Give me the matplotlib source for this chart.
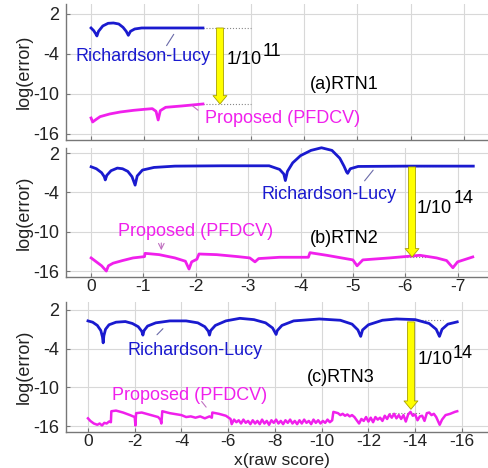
import matplotlib
matplotlib.use('Agg')
import matplotlib.pyplot as plt

plt.rcParams['font.family'] = ['Liberation Sans', 'DejaVu Sans']
plt.rcParams['axes.unicode_minus'] = False

# ---- data ----
# panel (a) RTN1
rl1_x = [0.0, -0.05, -0.09, -0.11, -0.14, -0.22, -0.32, -0.42, -0.52, -0.6, -0.66, -0.7,
         -0.74, -0.82, -0.95, -1.5, -2.1]
rl1_y = [-0.1, -0.5, -1.0, -1.3, -0.6, 0.2, 0.6, 0.65, 0.5, 0.0, -0.6, -1.2,
         -0.6, -0.25, -0.1, -0.1, -0.1]
pf1_x = [0.0, -0.03, -0.08, -0.17, -0.35, -0.55, -0.8, -1.0, -1.15, -1.22, -1.26, -1.3,
         -1.4, -1.7, -2.1]
pf1_y = [-13.6, -14.2, -13.9, -13.4, -13.0, -12.7, -12.45, -12.3, -12.2, -12.6, -13.9, -12.5,
         -12.0, -11.8, -11.5]

# panel (b) RTN2
rl2_x = [0.0, -0.1, -0.2, -0.25, -0.27, -0.3, -0.38, -0.5, -0.6, -0.7, -0.78, -0.84,
         -0.88, -0.98, -1.2, -1.6, -2.5, -3.4, -3.6, -3.68, -3.71, -3.75, -3.85, -4.0,
         -4.2, -4.4, -4.6, -4.75, -4.83, -4.88, -4.9, -4.95, -5.1, -6.0, -7.3]
rl2_y = [-0.1, -0.4, -1.0, -1.6, -2.1, -1.4, -0.7, -0.3, -0.4, -0.8, -1.6, -2.9,
         -1.5, -0.6, -0.2, 0.0, 0.05, 0.05, -0.5, -1.2, -2.2, -0.8, 0.5, 1.6,
         2.4, 2.8, 2.4, 1.2, 0.0, -0.9, -1.1, -0.4, -0.05, 0.0, 0.0]
pf2_x = [0.0, -0.1, -0.2, -0.29, -0.33, -0.42, -0.6, -0.8, -1.02, -1.03, -1.3, -1.6,
         -1.8, -1.87, -1.92, -2.02, -2.06, -2.4, -2.8, -3.03, -3.13, -3.2, -3.6, -4.15,
         -4.18, -4.5, -5.0, -5.08, -5.19, -5.7, -6.28, -6.6, -6.79, -6.91, -7.0, -7.29]
pf2_y = [-14.0, -14.6, -15.2, -16.0, -15.2, -14.8, -14.4, -14.0, -13.8, -13.3, -13.5, -14.0,
         -14.5, -15.7, -14.6, -14.2, -13.4, -13.5, -13.8, -14.0, -14.6, -14.1, -13.9, -13.9,
         -13.2, -13.6, -14.3, -15.2, -14.3, -14.0, -13.6, -14.0, -14.4, -15.5, -14.6, -13.85]

# panel (c) RTN3
rl3_x = [0.0, -0.2, -0.4, -0.55, -0.62, -0.65, -0.68, -0.75, -0.9, -1.2, -1.6, -1.9,
         -2.15, -2.3, -2.35, -2.4, -2.55, -2.9, -3.5, -4.2, -4.7, -5.0, -5.15, -5.2,
         -5.25, -5.45, -5.9, -6.5, -7.1, -7.6, -7.9, -8.05, -8.1, -8.3, -8.8, -9.9,
         -10.8, -11.3, -11.55, -11.67, -11.75, -12.0, -12.6, -13.2, -14.0, -14.6, -14.9,
         -15.04, -15.15, -15.4, -15.8]
rl3_y = [0.3, 0.1, -0.4, -1.2, -2.2, -3.1, -2.0, -1.0, -0.3, 0.1, 0.2, -0.1,
         -0.6, -1.3, -1.9, -1.2, -0.5, 0.0, 0.3, 0.3, 0.0, -0.6, -1.3, -1.9,
         -1.2, -0.4, 0.3, 0.7, 0.5, 0.0, -0.8, -1.8, -1.2, -0.4, 0.3, 0.6,
         0.4, -0.2, -1.1, -2.1, -1.1, -0.3, 0.4, 0.6, 0.5, -0.1, -1.0,
         -2.1, -1.0, -0.2, 0.15]
pf3_x = [0.0, -0.1, -0.25, -0.4, -0.5, -0.6, -0.7, -0.8, -0.9, -0.98, -1.0, -1.2,
         -1.5, -1.8, -2.0, -2.03, -2.06, -2.3, -2.6, -3.0, -3.1, -3.14, -3.18, -3.5,
         -4.0, -4.2, -4.4, -4.6, -4.8, -5.0, -5.2, -5.3, -5.32, -5.6, -5.9, -6.1,
         -6.15, -6.25, -6.35, -6.45, -6.55, -6.65, -6.75, -6.85, -6.95, -7.05, -7.15, -7.25,
         -7.35, -7.45, -7.55, -7.65, -7.75, -7.85, -7.95, -8.05, -8.15, -8.25, -8.35, -8.45,
         -8.55, -8.65, -8.75, -8.85, -8.95, -9.05, -9.15, -9.25, -9.35, -9.45, -9.55, -9.65,
         -9.75, -9.85, -9.95, -10.05, -10.15, -10.25, -10.35, -10.45, -10.5, -10.6, -10.7, -10.8,
         -10.9, -11.0, -11.1, -11.2, -11.3, -11.4, -11.5, -11.6, -11.7, -11.8, -11.9, -12.0,
         -12.1, -12.2, -12.3, -12.4, -12.5, -12.6, -12.7, -12.8, -12.9, -13.0, -13.1, -13.2,
         -13.3, -13.4, -13.5, -13.6, -13.7, -13.8, -13.9, -14.0, -14.1, -14.2, -14.3, -14.4,
         -14.5, -14.6, -14.7, -14.8, -14.9, -15.0, -15.05, -15.15, -15.3, -15.5, -15.7, -15.8]
pf3_y = [-14.8, -15.2, -15.6, -15.8, -15.6, -15.9, -15.5, -15.6, -15.3, -15.4, -13.7, -13.6,
         -13.9, -14.3, -14.6, -15.9, -14.0, -13.9, -14.2, -14.6, -15.0, -15.6, -13.7, -14.0,
         -14.3, -14.6, -14.5, -14.7, -14.5, -14.8, -14.5, -14.7, -13.9, -14.1, -14.4, -14.9,
         -15.7, -15.0, -15.4, -15.1, -15.6, -15.0, -15.5, -15.2, -15.7, -15.1, -15.6, -15.2,
         -15.7, -15.0, -15.6, -15.2, -15.8, -15.1, -15.5, -15.0, -15.6, -15.2, -15.7, -15.1,
         -15.5, -15.0, -15.6, -15.2, -15.7, -15.1, -15.6, -15.0, -15.5, -15.2, -15.7, -15.0,
         -15.5, -15.1, -15.6, -15.2, -15.5, -15.0, -15.4, -15.1, -13.8, -13.9, -14.0, -14.3,
         -14.1, -14.4, -14.2, -14.5, -14.3, -14.6, -15.1, -15.6, -14.9, -15.2, -14.6, -15.3,
         -14.7, -15.4, -14.6, -15.0, -14.7, -15.2, -14.4, -14.9, -14.2, -14.7, -14.1, -14.8,
         -14.3, -14.9, -14.3, -15.3, -14.2, -13.8, -14.4, -14.2, -15.1, -14.5, -14.4, -15.2,
         -14.0, -13.9, -14.3, -14.1, -14.6, -15.4, -15.8, -15.0, -14.3, -14.1, -13.8, -13.7]

y_ticks = [2, -4, -10, -16]
x_ticks_ab = [0, -1, -2, -3, -4, -5, -6, -7]
x_ticks_c = [0, -2, -4, -6, -8, -10, -12, -14, -16]

blue = '#1a1acf'
magenta = '#f020ec'

fig = plt.figure(figsize=(4.89, 4.68), dpi=100)
ax1 = fig.add_axes([0.135, 0.7009, 0.865, 0.2906])
ax2 = fig.add_axes([0.135, 0.4081, 0.865, 0.2756])
ax3 = fig.add_axes([0.135, 0.0769, 0.865, 0.2778])

panels = [
    (ax1, rl1_x, rl1_y, pf1_x, pf1_y, (0.47, -7.47), (-16.9, 3.5), x_ticks_ab),
    (ax2, rl2_x, rl2_y, pf2_x, pf2_y, (0.48, -7.6), (-16.91, 2.76), x_ticks_ab),
    (ax3, rl3_x, rl3_y, pf3_x, pf3_y, (0.94, -17.16), (-16.92, 3.23), x_ticks_c),
]

for ax, rx, ry, px, py, xl, yl, xt in panels:
    ax.plot(rx, ry, color=blue, lw=2.0, clip_on=False, zorder=3)
    ax.plot(px, py, color=magenta, lw=2.0 if ax is not ax3 else 1.8, clip_on=False, zorder=3)
    ax.set_xlim(*xl)
    ax.set_ylim(*yl)
    ax.set_yticks(y_ticks)
    ax.set_xticks(xt)
    ax.grid(True, color='#d8d8d8', lw=0.8)
    ax.set_axisbelow(True)
    for s in ['top', 'right']:
        ax.spines[s].set_visible(False)
    for s in ['left', 'bottom']:
        ax.spines[s].set_color('#777777')
        ax.spines[s].set_linewidth(1.0)
    ax.tick_params(direction='in', length=3, color='#777777', labelsize=13,
                   labelcolor='#222222', pad=5)
    ax.tick_params(axis='x', pad=1.5, labelsize=12.5)
    ax.set_ylabel('log(error)', fontsize=13, color='#222222')
    ax.yaxis.set_label_coords(-0.078, 0.5)

ax1.set_xticklabels([])

txt = dict(fontsize=13)
arr_rl = dict(arrowstyle='-', color='#6a6aa8', lw=0.8)
arr_pf = dict(arrowstyle='-', color='#c070c0', lw=0.8)
yellow = dict(facecolor='#ffff00', edgecolor='#a8a000', width=5, headwidth=10,
              headlength=6, lw=0.6)

# (a)
ax1.text(0.30, -4.45, 'Richardson-Lucy', color=blue, va='center', ha='left', **txt)
ax1.annotate('', xy=(-1.58, -0.7), xytext=(-1.39, -3.1), arrowprops=arr_rl)
ax1.text(-2.14, -13.75, 'Proposed (PFDCV)', color=magenta, va='center', ha='left', **txt)
ax1.annotate('', xy=(-1.86, -11.5), xytext=(-2.05, -12.7), arrowprops=arr_pf)
ax1.plot([-2.1, -3.0], [-0.1, -0.1], ls=':', color='#888888', lw=0.8)
ax1.plot([-2.1, -3.0], [-11.5, -11.5], ls=':', color='#888888', lw=0.8)
ax1.annotate('', xy=(-2.42, -11.5), xytext=(-2.42, -0.1), arrowprops=yellow)
ax1.text(-2.55, -4.9, '1/10', va='center', ha='left', **txt)
ax1.text(-3.22, -3.6, '11', va='center', ha='left', **txt)
ax1.text(-4.11, -8.65, '(a)RTN1', va='center', ha='left', **txt)

# (b)
ax2.text(-3.26, -4.4, 'Richardson-Lucy', color=blue, va='center', ha='left', **txt)
ax2.annotate('', xy=(-5.42, -0.29), xytext=(-5.19, -2.57), arrowprops=arr_rl)
ax2.text(-0.52, -10.04, 'Proposed (PFDCV)', color=magenta, va='center', ha='left', **txt)
ax2.annotate('', xy=(-1.34, -13.25), xytext=(-1.34, -11.3),
             arrowprops=dict(arrowstyle='->', color='#c070c0', lw=0.8))
ax2.plot([-5.5, -6.7], [-0.05, -0.05], ls=':', color='#888888', lw=0.8)
ax2.plot([-5.8, -6.4], [-13.85, -13.85], ls=':', color='#888888', lw=0.8)
ax2.annotate('', xy=(-6.13, -13.85), xytext=(-6.13, -0.13), arrowprops=yellow)
ax2.text(-6.22, -6.4, '1/10', va='center', ha='left', **txt)
ax2.text(-6.92, -5.0, '14', va='center', ha='left', **txt)
ax2.text(-4.18, -11.1, '(b)RTN2', va='center', ha='left', **txt)

# (c)
ax3.text(-1.67, -4.3, 'Richardson-Lucy', color=blue, va='center', ha='left', **txt)
ax3.annotate('', xy=(-3.29, -0.6), xytext=(-2.87, -2.15), arrowprops=arr_rl)
ax3.text(-1.03, -11.2, 'Proposed (PFDCV)', color=magenta, va='center', ha='left', **txt)
ax3.annotate('', xy=(-5.13, -13.4), xytext=(-4.79, -11.85), arrowprops=arr_pf)
ax3.plot([-13.9, -15.2], [0.4, 0.4], ls=':', color='#888888', lw=0.8)
ax3.plot([-12.9, -14.2], [-13.9, -13.9], ls=':', color='#888888', lw=0.8)
ax3.annotate('', xy=(-13.82, -13.4), xytext=(-13.82, 0.15), arrowprops=yellow)
ax3.text(-14.12, -5.7, '1/10', va='center', ha='left', **txt)
ax3.text(-15.6, -4.7, '14', va='center', ha='left', **txt)
ax3.text(-9.37, -8.5, '(c)RTN3', va='center', ha='left', **txt)

fig.text(282 / 489, 0.5 / 468, 'x(raw score)', ha='center', va='bottom',
         fontsize=12.5, color='#222222')

fig.savefig('out.png', dpi=100)
